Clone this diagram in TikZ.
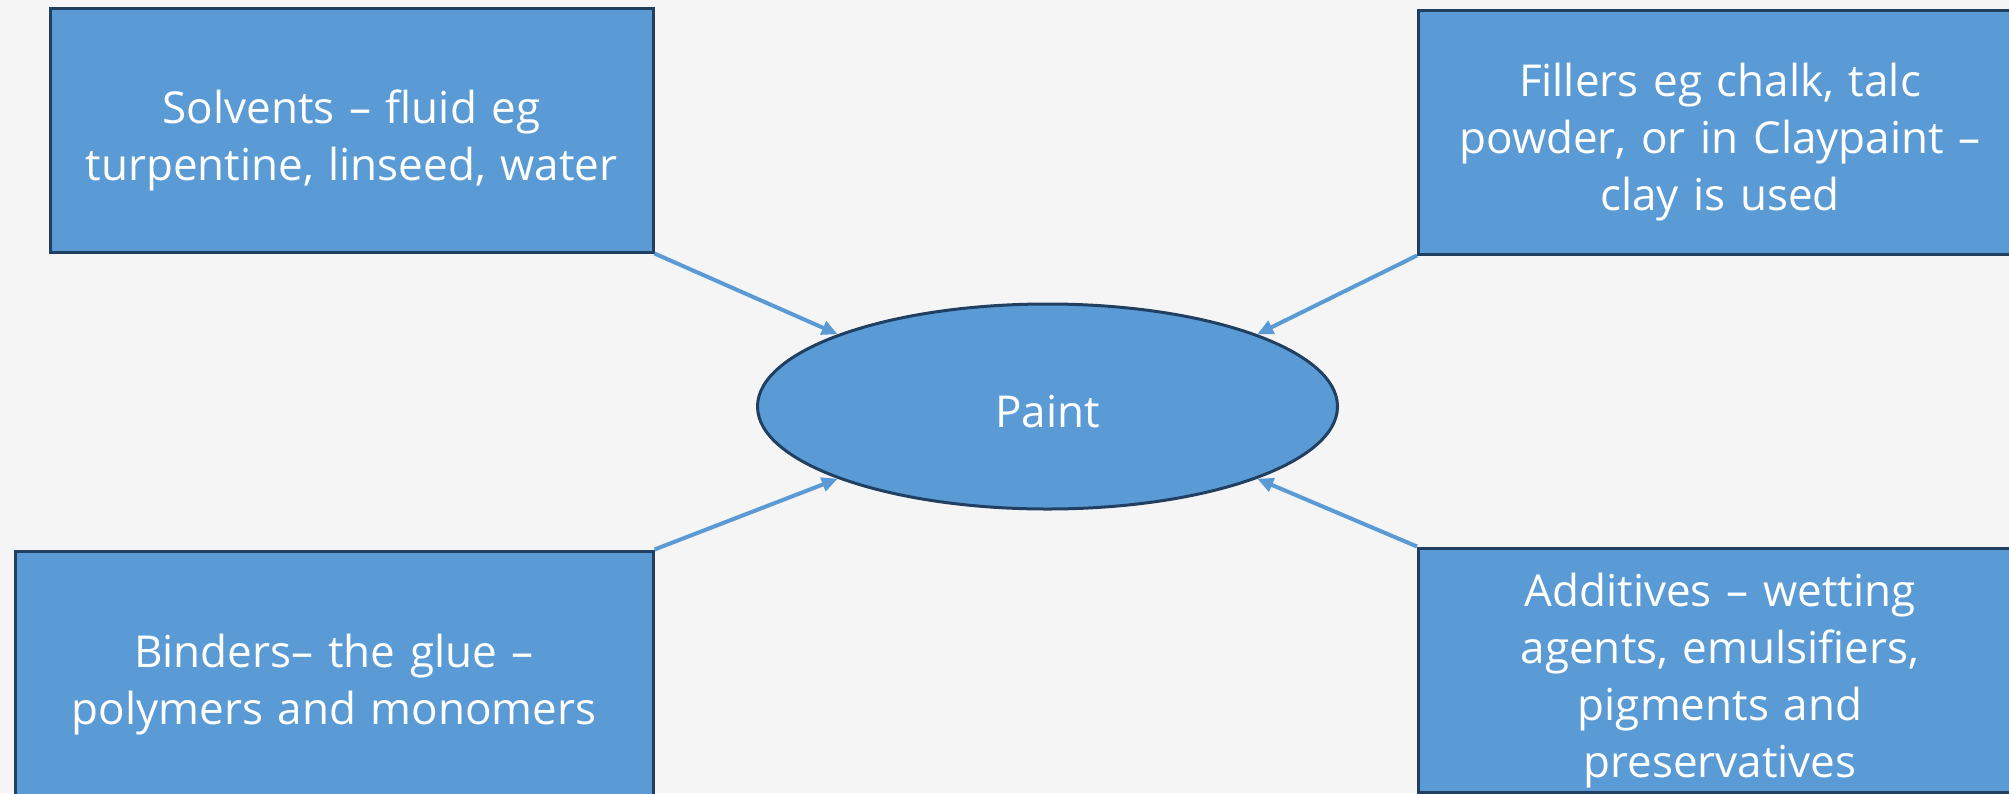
\documentclass[tikz,border=0pt]{standalone}
\usepackage{fontspec}
\setmainfont{Open Sans}
\usetikzlibrary{shapes.geometric,arrows.meta}
\definecolor{bgc}{HTML}{F5F5F5}
\definecolor{fillc}{HTML}{5B9BD5}
\definecolor{edgec}{HTML}{213F60}
\definecolor{arrc}{HTML}{5B9BD5}
\tikzset{
  part/.style={draw=edgec, line width=3pt, fill=fillc, rectangle, inner sep=0pt,
    minimum width=603pt, minimum height=244pt},
  lbl/.style={inner sep=0pt, text width=590pt, align=center,
    text=white, font=\fontsize{44}{57}\selectfont},
  whole/.style={draw=edgec, line width=3pt, fill=fillc, ellipse, inner sep=0pt,
    minimum width=580pt, minimum height=205pt},
  feed/.style={draw=arrc, line width=4pt, -{Triangle[length=16pt,width=14pt]}}
}
\begin{document}
\begin{tikzpicture}[x=1pt,y=-1pt]
\useasboundingbox (0,0) rectangle (2009,793);
\fill[bgc] (0,0) rectangle (2009,793);
\clip (0,0) rectangle (2009,793);
\node[part] (s) at (351.5,130) {};
\node[part] (f) at (1720,132) {};
\node[part, minimum width=638pt] (b) at (334,673) {};
\node[part] (a) at (1720,670) {};
\node[whole] (p) at (1047.5,406.5) {};
\node[lbl] (st) at ([yshift=-10pt]s.center) {Solvents – fluid eg\\turpentine, linseed, water};
\node[lbl] (ft) at ([yshift=-10pt]f.center) {Fillers eg chalk, talc\\powder, or in Claypaint –\\clay is used};
\node[lbl] (bt) at ([yshift=-12pt]b.center) {Binders– the glue –\\polymers and monomers};
\node[lbl] (at) at ([yshift=-11pt]a.center) {Additives – wetting\\agents, emulsifiers,\\pigments and\\preservatives};
\node[lbl, text width=] (pt) at ([yshift=-5pt]p.center) {Paint};
\draw[feed] (s.south east) -- (p.161);
\draw[feed] (f.south west) -- (p.19);
\draw[feed] (b.north east) -- (p.199);
\draw[feed] (a.north west) -- (p.341);
\end{tikzpicture}
\end{document}
